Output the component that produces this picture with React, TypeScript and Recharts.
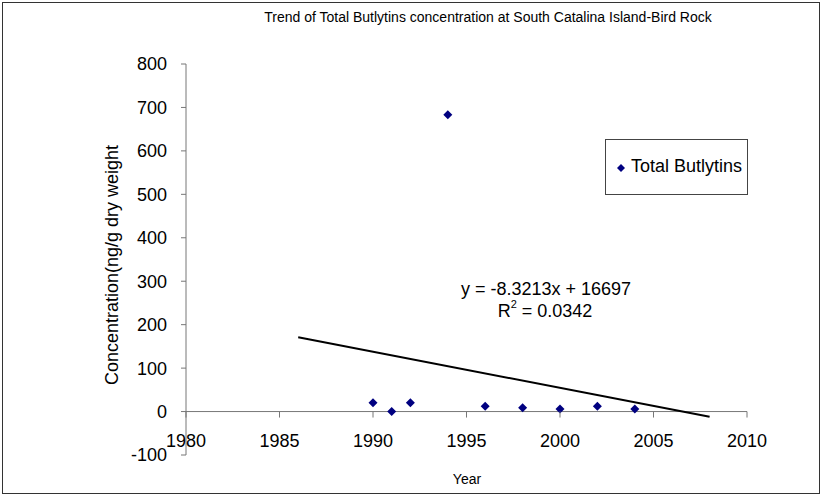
import React from 'react';
import { ScatterChart, Scatter, XAxis, YAxis, ReferenceLine } from 'recharts';

const years = [1990, 1991, 1992, 1994, 1996, 1998, 2000, 2002, 2004];
const butyltins = [20, 0, 20, 683, 12, 9, 6, 12, 6];

const trendYears = [1986, 2008];
const trendValues = [171, -12];

const xTicks = [1980, 1985, 1990, 1995, 2000, 2005, 2010];
const yTicks = [-100, 0, 100, 200, 300, 400, 500, 600, 700, 800];

const points = years.map((year, i) => ({ year, value: butyltins[i] }));
const trend = trendYears.map((year, i) => ({ year, value: trendValues[i] }));

const W = 822;
const H = 496;
const margin = { top: 64, right: 75, bottom: 0, left: 0 };
const xAxisHeight = 41;
const plotTop = margin.top;
const plotH = H - margin.top - xAxisHeight;
const yMin = -100;
const yMax = 800;
// pixel row of y = 0, where the x axis crosses
const zeroY = plotTop + (plotH * yMax) / (yMax - yMin);

const font = '"Liberation Sans", Arial, sans-serif';
const navy = '#000080';

const Diamond = (props: any) => {
    const { cx, cy } = props;
    const r = 4.5;
    return <polygon points={`${cx},${cy - r} ${cx + r},${cy} ${cx},${cy + r} ${cx - r},${cy}`} fill={navy} />;
};

const XTick = (props: any) => {
    const { x, payload } = props;
    return (
        <g>
            <line x1={x} x2={x} y1={zeroY} y2={zeroY + 6} stroke="#777" />
            <text x={x} y={zeroY + 35} textAnchor="middle" fontSize={18} fill="#000" fontFamily={font}>
                {payload.value}
            </text>
        </g>
    );
};

const YLabel = () => (
    <text
        x={112}
        y={265}
        transform="rotate(-90 112 265)"
        textAnchor="middle"
        dominantBaseline="central"
        fontSize={18}
        fill="#000"
        fontFamily={font}
    >
        Concentration(ng/g dry weight
    </text>
);

export default function App() {
    return (
        <div style={{ position: 'absolute', left: 0, top: 0, width: W, height: H, background: '#fff', fontFamily: font }}>
            <div
                style={{
                    position: 'absolute',
                    left: 2,
                    top: 2,
                    width: 816,
                    height: 490,
                    border: '1px solid #333',
                }}
            />
            <div style={{ position: 'absolute', left: 0, width: 976, top: 9, fontSize: 14, textAlign: 'center', color: '#000' }}>
                Trend of Total Butlytins concentration at South Catalina Island-Bird Rock
            </div>
            <ScatterChart width={W} height={H} margin={margin}>
                <XAxis
                    type="number"
                    dataKey="year"
                    domain={[1980, 2010]}
                    ticks={xTicks}
                    axisLine={false}
                    tickLine={false}
                    tick={<XTick />}
                    height={xAxisHeight}
                    interval={0}
                />
                <YAxis
                    type="number"
                    dataKey="value"
                    domain={[yMin, yMax]}
                    ticks={yTicks}
                    width={186}
                    interval={0}
                    stroke="#777"
                    tickSize={5}
                    tickMargin={14}
                    tick={{ fill: '#000', fontSize: 18, fontFamily: font }}
                    label={{ content: <YLabel /> }}
                />
                <ReferenceLine y={0} stroke="#777" strokeWidth={1} />
                <Scatter
                    data={trend}
                    line={{ stroke: '#000', strokeWidth: 2 }}
                    shape={() => <g />}
                    isAnimationActive={false}
                />
                <Scatter data={points} shape={<Diamond />} isAnimationActive={false} />
            </ScatterChart>
            <div style={{ position: 'absolute', left: 0, width: 934, top: 471, fontSize: 14, textAlign: 'center', color: '#000' }}>
                Year
            </div>
            <div style={{ position: 'absolute', left: 446, width: 200, top: 279, fontSize: 18, textAlign: 'center', color: '#000' }}>
                y = -8.3213x + 16697
            </div>
            <div style={{ position: 'absolute', left: 445, width: 200, top: 301, fontSize: 18, textAlign: 'center', color: '#000' }}>
                R<sup style={{ fontSize: 11, verticalAlign: 9, lineHeight: 0 }}>2</sup> = 0.0342
            </div>
            <div
                style={{
                    position: 'absolute',
                    left: 605,
                    top: 139,
                    width: 141,
                    height: 54,
                    border: '1px solid #444',
                    background: '#fff',
                }}
            >
                <svg width={10} height={10} style={{ position: 'absolute', left: 10, top: 23 }}>
                    <polygon points="5,1 9,5 5,9 1,5" fill={navy} />
                </svg>
                <div style={{ position: 'absolute', left: 25, top: 16, fontSize: 18, color: '#000', whiteSpace: 'nowrap' }}>
                    Total Butlytins
                </div>
            </div>
        </div>
    );
}
